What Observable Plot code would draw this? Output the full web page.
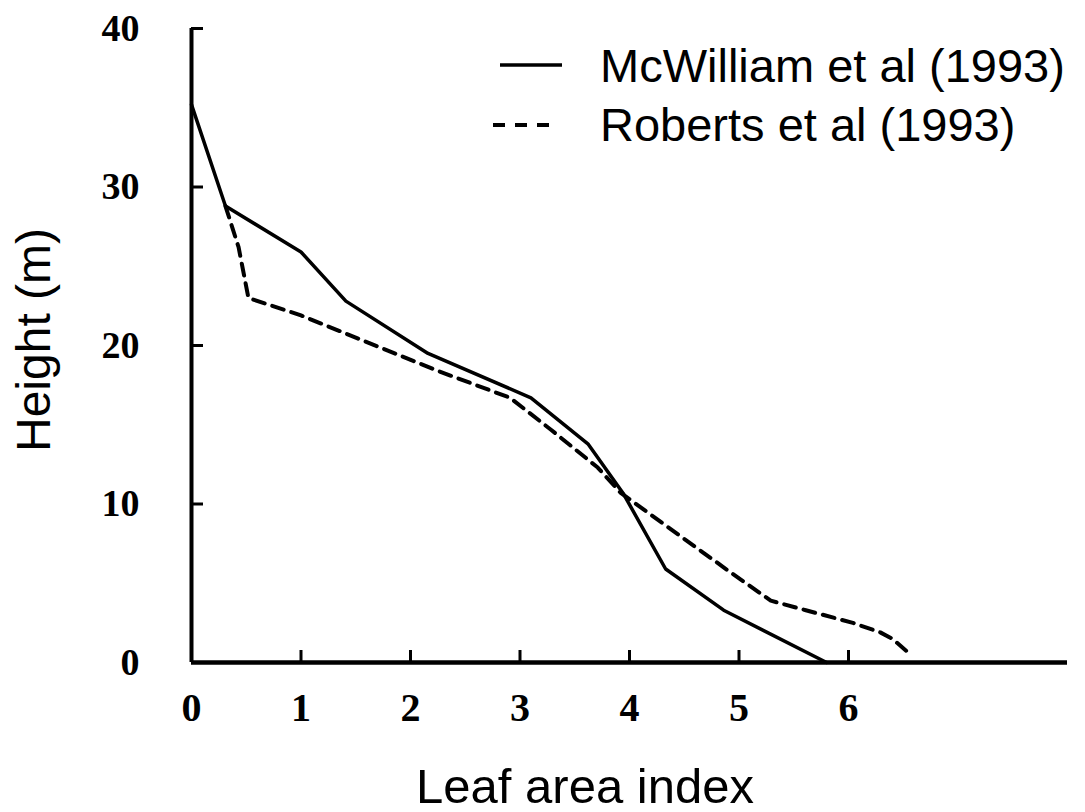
<!DOCTYPE html>
<html>
<head>
<meta charset="utf-8">
<script src="https://cdn.jsdelivr.net/npm/d3@7"></script>
<script src="https://cdn.jsdelivr.net/npm/@observablehq/plot@0.6"></script>
<style>
  html, body { margin: 0; padding: 0; background: white; }
  #chart { width: 1085px; height: 812px; }
</style>
</head>
<body>
<div id="chart"></div>
<script>
// Series: McWilliam et al (1993) – solid
const laiMcW = [0, 0.31, 1.0, 1.41, 2.16, 3.1, 3.62, 3.94, 4.33, 4.86, 5.8];
const hMcW   = [35.2, 28.8, 25.9, 22.8, 19.5, 16.7, 13.8, 10.7, 5.9, 3.3, 0];
// Series: Roberts et al (1993) – dashed
const laiRob = [0.31, 0.43, 0.52, 1.0, 2.25, 2.91, 3.28, 3.71, 3.92, 4.92, 5.29, 5.61, 6.04, 6.29, 6.4, 6.55];
const hRob   = [28.8, 26.2, 23.0, 21.9, 18.4, 16.7, 14.7, 12.3, 10.7, 5.7, 3.9, 3.3, 2.5, 1.9, 1.5, 0.6];
// Axes
const xDomain = [0, 8];
const yDomain = [0, 40];
const xTickMarks = [1, 2, 3, 4, 5, 6];
const xTickLabels = [0, 1, 2, 3, 4, 5, 6];
const yTickMarks = [10, 20, 30, 40];
const yTickLabels = [0, 10, 20, 30, 40];
const xTitle = "Leaf area index";
const yTitle = "Height (m)";
const seriesNames = ["McWilliam et al (1993)", "Roberts et al (1993)"];

const mcw = laiMcW.map((x, i) => ({lai: x, h: hMcW[i]}));
const rob = laiRob.map((x, i) => ({lai: x, h: hRob[i]}));

const serif = "'Liberation Serif', 'Times New Roman', serif";
const sans = "'Liberation Sans', Arial, Helvetica, sans-serif";

const W = 1085, H = 812, ML = 191, MR = 18, MT = 28, MB = 150;
const frameW = W - ML - MR, frameH = H - MT - MB;
const tickLen = 12;

const svgEl = Plot.plot({
  width: W,
  height: H,
  marginLeft: ML,
  marginRight: MR,
  marginTop: MT,
  marginBottom: MB,
  x: {domain: xDomain},
  y: {domain: yDomain},
  style: {background: "white", color: "black", overflow: "visible"},
  marks: [
    // inward tick marks
    Plot.tickY(yTickMarks, {y: d => d, stroke: "black", strokeWidth: 3, insetRight: frameW - tickLen}),
    Plot.tickX(xTickMarks, {x: d => d, stroke: "black", strokeWidth: 3, insetTop: frameH - tickLen}),
    // tick labels
    Plot.axisY({ticks: yTickLabels, tickSize: 0, tickPadding: 52, fontSize: 38, fontWeight: "bold",
                fontFamily: serif, tickFormat: d => String(d), label: null}),
    Plot.axisX({ticks: xTickLabels, tickSize: 0, tickPadding: 30, fontSize: 40, fontWeight: "bold",
                fontFamily: serif, tickFormat: d => String(d), label: null}),
    // axis lines
    Plot.ruleX([xDomain[0]], {y1: yDomain[0], y2: yDomain[1], stroke: "black", strokeWidth: 4}),
    Plot.ruleY([yDomain[0]], {x1: xDomain[0], x2: xDomain[1], stroke: "black", strokeWidth: 4.5}),
    // series
    Plot.line(rob, {x: "lai", y: "h", stroke: "black", strokeWidth: 4, strokeDasharray: "12,8"}),
    Plot.line(mcw, {x: "lai", y: "h", stroke: "black", strokeWidth: 3.5})
  ]
});

const svg = d3.select(svgEl);
// Axis titles
svg.append("text")
  .attr("transform", "translate(50,340) rotate(-90)")
  .attr("text-anchor", "middle")
  .attr("font-family", sans)
  .attr("font-size", 48)
  .attr("fill", "black")
  .text(yTitle);
svg.append("text")
  .attr("x", 585).attr("y", 803)
  .attr("text-anchor", "middle")
  .attr("font-family", sans)
  .attr("font-size", 49)
  .attr("fill", "black")
  .text(xTitle);

// Legend
const leg = svg.append("g").attr("text-anchor", "start");
leg.append("line").attr("x1", 500).attr("x2", 562).attr("y1", 65).attr("y2", 65)
  .attr("stroke", "black").attr("stroke-width", 3.5);
leg.append("line").attr("x1", 493).attr("x2", 551).attr("y1", 125).attr("y2", 125)
  .attr("stroke", "black").attr("stroke-width", 4).attr("stroke-dasharray", "12,10");
leg.append("text").attr("x", 600).attr("y", 82).attr("text-anchor", "start")
  .attr("font-family", sans).attr("font-size", 47).attr("fill", "black").text(seriesNames[0]);
leg.append("text").attr("x", 600).attr("y", 141).attr("text-anchor", "start")
  .attr("font-family", sans).attr("font-size", 47).attr("fill", "black").text(seriesNames[1]);

document.getElementById("chart").appendChild(svgEl);
</script>
</body>
</html>
